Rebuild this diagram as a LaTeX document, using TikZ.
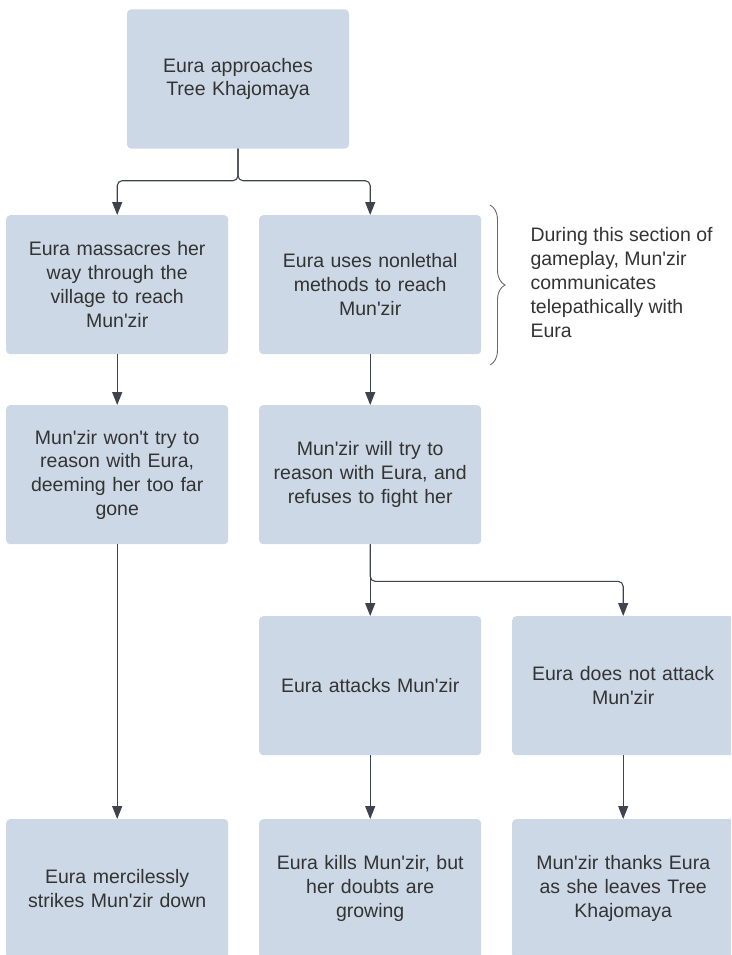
\documentclass[tikz,border=0pt]{standalone}
\usepackage{fontspec}
\setmainfont{Liberation Sans}
\usetikzlibrary{arrows.meta, positioning, matrix, decorations.pathreplacing}
\definecolor{boxfill}{RGB}{205,216,230}
\definecolor{linegray}{RGB}{62,67,78}
\definecolor{txtgray}{RGB}{51,51,51}
\newcommand{\apos}{\textquotesingle}
\tikzset{
  box/.style={fill=boxfill, rounded corners=4pt, text=txtgray, minimum height=139pt, minimum width=222pt,
    text width=210pt, inner sep=6pt, align=center, font=\fontsize{19.5}{23.8}\selectfont},
  arr/.style={-{Triangle[length=13pt, width=10pt]}, draw=linegray, line width=1.1pt},
  note/.style={text=txtgray, align=left, font=\fontsize{19.5}{24}\selectfont},
}

\begin{document}
\begin{tikzpicture}[x=1pt, y=-1pt]
    \path[use as bounding box, clip] (0,0) rectangle (731,955);
    \node[box] (start) at (238,79) {Eura approaches\\Tree Khajomaya};
    \matrix (m) [matrix of nodes, anchor=north west, inner sep=0pt, column sep=31pt, row sep=0pt,
      nodes={box, anchor=center}] at (6,215) {
      {Eura massacres her\\way through the\\village to reach\\Mun\apos zir} &
      {Eura uses nonlethal\\methods to reach\\Mun\apos zir} & \\[51pt]
      {Mun\apos zir won\apos t try to\\reason with Eura,\\deeming her too far\\gone} &
      {Mun\apos zir will try to\\reason with Eura, and\\refuses to fight her} & \\[72pt]
      & Eura attacks Mun\apos zir & {Eura does not attack\\Mun\apos zir} \\[64pt]
      {Eura mercilessly\\strikes Mun\apos zir down} &
      {Eura kills Mun\apos zir, but\\her doubts are\\growing} &
      {Mun\apos zir thanks Eura\\as she leaves Tree\\Khajomaya} \\
    };
    \draw[arr, rounded corners=5pt] (start.south) -- ++(0,32) -| (m-1-1.north);
    \draw[arr, rounded corners=5pt] (start.south) -- ++(0,32) -| (m-1-2.north);
    \draw[arr] (m-1-1) -- (m-2-1);
    \draw[arr] (m-1-2) -- (m-2-2);
    \draw[arr] (m-2-1) -- (m-4-1);
    \draw[arr] (m-2-2) -- (m-3-2);
    \draw[arr, rounded corners=5pt] (m-2-2.south) -- ++(0,37) -| (m-3-3.north);
    \draw[arr] (m-3-2) -- (m-4-2);
    \draw[arr] (m-3-3) -- (m-4-3);
    % brace and side note
    \coordinate (bt) at (490,205);
    \coordinate (bb) at (490,365);
    \draw[draw=linegray!80, line width=0.9pt, decorate, decoration={brace, amplitude=15pt}] (bt) -- (bb);
    \node[note, anchor=west] (aside) at (527,283)
      {During this section of\\gameplay, Mun\apos zir\\communicates\\telepathically with\\Eura};
\end{tikzpicture}
\end{document}
